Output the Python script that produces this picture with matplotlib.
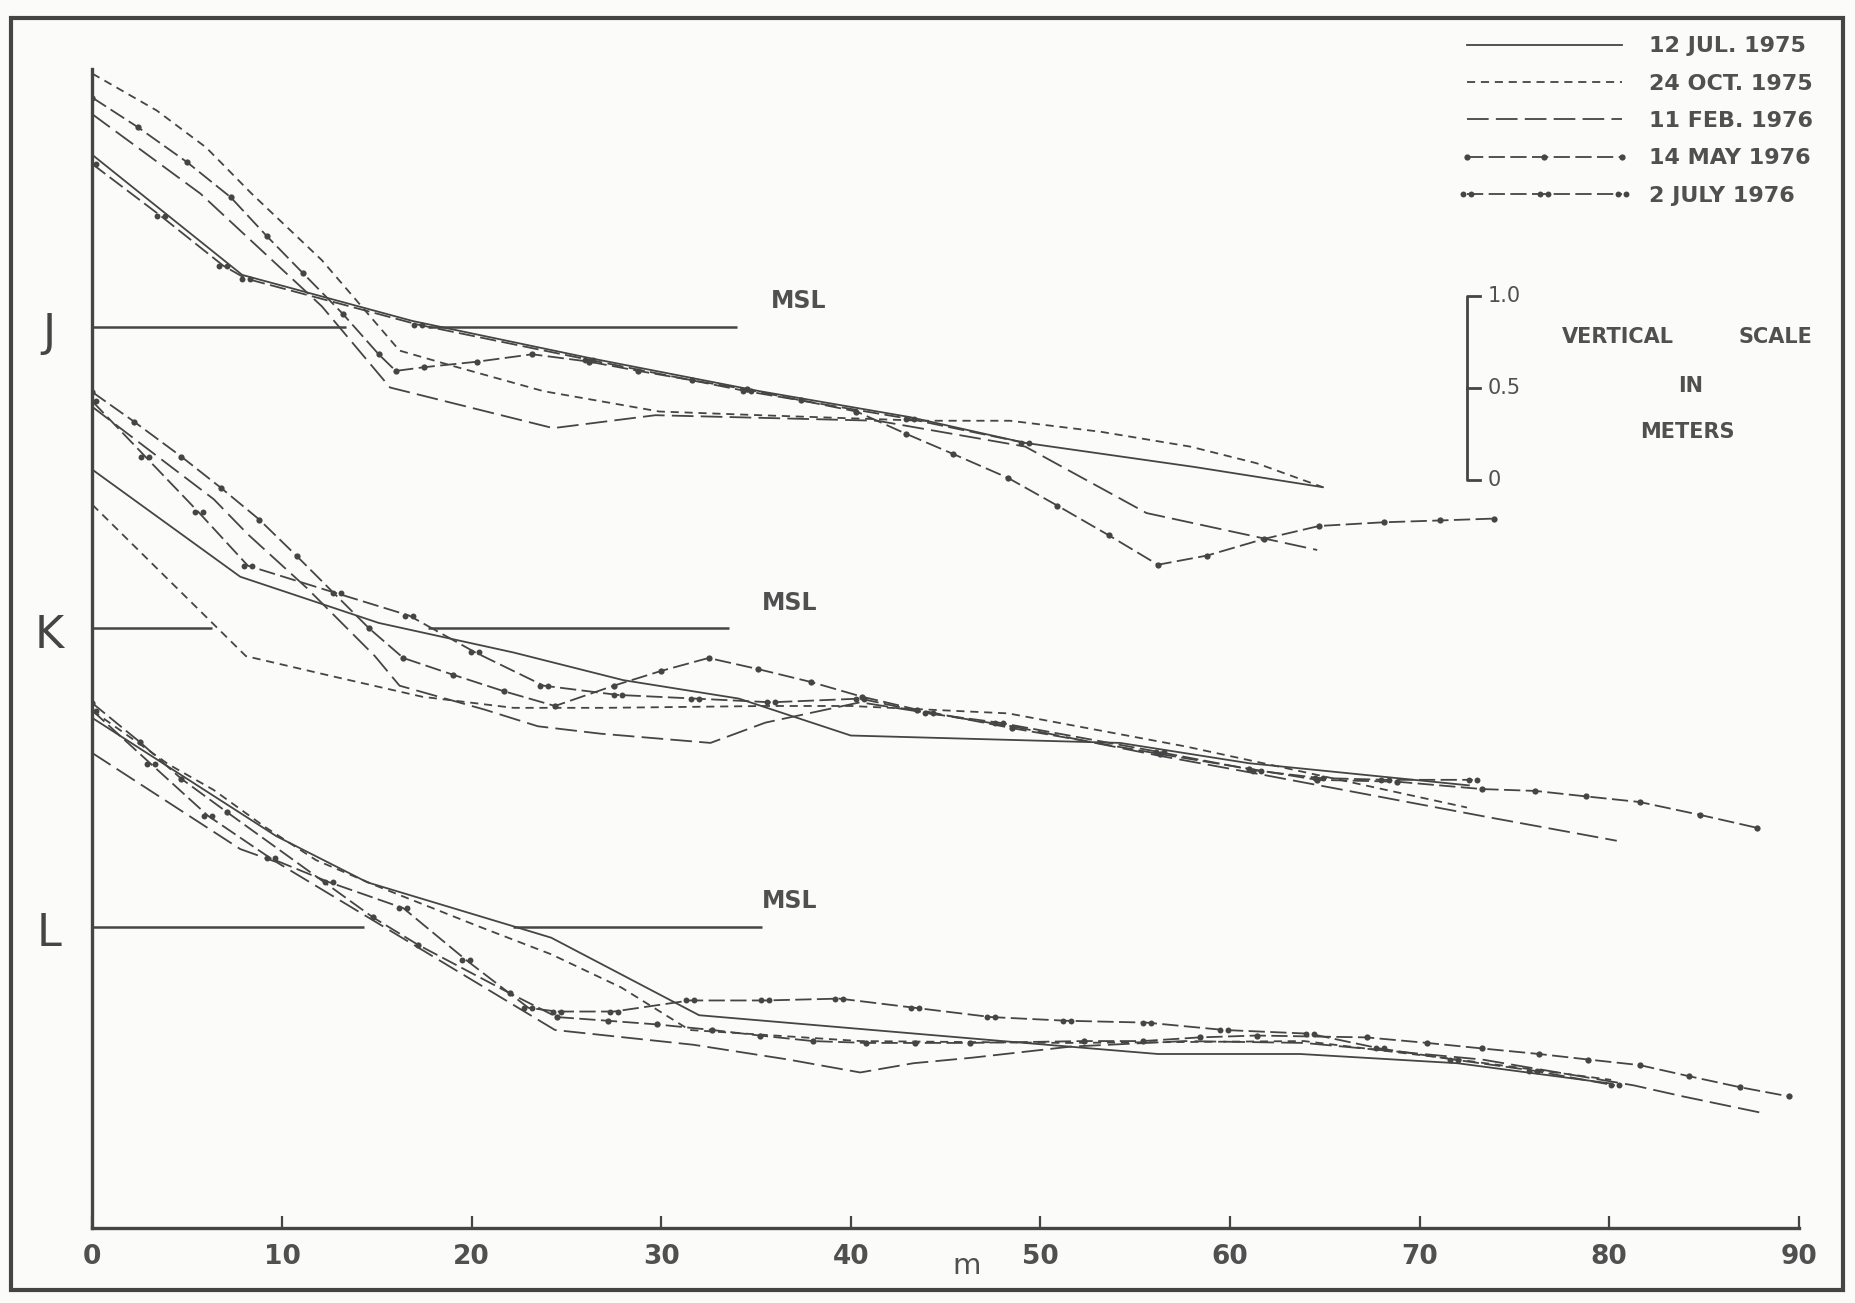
import matplotlib
matplotlib.use("Agg")
import matplotlib.pyplot as plt
from matplotlib.path import Path
from matplotlib.patches import Rectangle

# Beach profiles J, K, L: distance from bench mark (m) and elevation above MSL (m)
dates = ["12 JUL. 1975", "24 OCT. 1975", "11 FEB. 1976", "14 MAY 1976", "2 JULY 1976"]

# ---- profile J
j_jul75_x = [0, 7.9, 16.9, 26.2, 35.2, 43.1, 49.2, 58.1, 64.9]
j_jul75_y = [0.93, 0.28, 0.03, -0.17, -0.35, -0.49, -0.63, -0.76, -0.87]
j_oct75_x = [0, 3.4, 6.0, 8.4, 12.1, 16.2, 18.9, 23.8, 29.9, 35.2, 43.8, 48.4, 53.2, 57.9, 61.4, 64.9]
j_oct75_y = [1.37, 1.17, 0.97, 0.72, 0.36, -0.13, -0.21, -0.35, -0.46, -0.48, -0.51, -0.51, -0.57, -0.65, -0.74, -0.87]
j_feb76_x = [0, 5.7, 12.1, 15.7, 24.3, 29.7, 41.4, 49.2, 55.6, 64.6]
j_feb76_y = [1.15, 0.72, 0.11, -0.33, -0.55, -0.48, -0.51, -0.65, -1.01, -1.21]
j_may76_x = [0, 2.4, 5.0, 7.3, 9.2, 11.1, 13.2, 15.1, 16.0, 17.5, 20.3, 23.2, 26.2, 28.8, 31.6,
             34.5, 37.4, 40.3, 42.9, 45.4, 48.3, 50.9, 53.6, 56.2, 58.8, 61.8, 64.7, 68.1, 71.1, 73.9]
j_may76_y = [1.24, 1.08, 0.89, 0.70, 0.49, 0.29, 0.07, -0.15, -0.24, -0.22, -0.19, -0.15, -0.19, -0.24, -0.29,
             -0.34, -0.40, -0.46, -0.58, -0.69, -0.82, -0.97, -1.13, -1.29, -1.24, -1.15, -1.08, -1.06, -1.05, -1.04]
j_jul76_x = [0, 3.6, 6.9, 8.1, 17.2, 26.2, 34.5, 43.1, 49.2]
j_jul76_y = [0.88, 0.60, 0.33, 0.26, 0.01, -0.18, -0.35, -0.50, -0.63]

# ---- profile K
k_jul75_x = [0, 7.8, 15.1, 22.2, 28.0, 34.1, 40.0, 54.2, 61.0, 72.6]
k_jul75_y = [0.86, 0.28, 0.03, -0.13, -0.28, -0.38, -0.58, -0.62, -0.73, -0.85]
k_oct75_x = [0, 8.1, 12.7, 17.4, 22.2, 27.1, 35.5, 40.0, 48.3, 57.7, 64.0, 72.5]
k_oct75_y = [0.67, -0.15, -0.26, -0.37, -0.43, -0.43, -0.42, -0.42, -0.46, -0.64, -0.78, -0.97]
k_feb76_x = [0, 6.4, 8.2, 11.3, 14.9, 16.2, 20.7, 23.5, 26.8, 32.6, 35.5, 40.5, 48.5, 56.3, 61.6, 73.5, 80.4]
k_feb76_y = [1.20, 0.70, 0.51, 0.22, -0.15, -0.31, -0.44, -0.53, -0.57, -0.62, -0.51, -0.40, -0.53, -0.69, -0.79, -1.02, -1.15]
k_may76_x = [0, 2.2, 4.7, 6.8, 8.8, 10.8, 14.6, 16.4, 19.0, 21.7, 24.4, 27.5, 30.0, 32.5, 35.1,
             37.9, 40.6, 43.5, 48.5, 56.3, 61.0, 64.6, 68.8, 73.3, 76.1, 78.8, 81.6, 84.8, 87.8]
k_may76_y = [1.28, 1.12, 0.93, 0.76, 0.59, 0.39, 0.0, -0.16, -0.25, -0.34, -0.42, -0.31, -0.23, -0.16, -0.22,
             -0.29, -0.37, -0.44, -0.54, -0.68, -0.76, -0.82, -0.83, -0.87, -0.88, -0.91, -0.94, -1.01, -1.08]
k_jul76_x = [0, 2.8, 5.6, 8.2, 12.9, 16.7, 20.2, 23.8, 27.7, 31.8, 35.8, 40.5, 44.1, 47.8, 56.3, 61.4, 64.7, 68.2, 72.8]
k_jul76_y = [1.23, 0.93, 0.63, 0.34, 0.19, 0.07, -0.13, -0.31, -0.36, -0.38, -0.40, -0.38, -0.46, -0.51, -0.67, -0.77, -0.81, -0.82, -0.82]

# ---- profile L
l_jul75_x = [0, 9.7, 14.5, 24.2, 32.0, 48.0, 56.2, 63.7, 72.0, 80.1]
l_jul75_y = [1.13, 0.49, 0.24, -0.06, -0.48, -0.62, -0.69, -0.69, -0.74, -0.85]
l_oct75_x = [0, 4.0, 6.4, 9.1, 11.8, 15.0, 17.7, 20.4, 24.2, 27.9, 31.5, 40.5, 51.4, 63.9, 72.0, 80.1]
l_oct75_y = [1.17, 0.88, 0.74, 0.54, 0.36, 0.22, 0.11, 0.0, -0.15, -0.33, -0.56, -0.62, -0.63, -0.62, -0.72, -0.83]
l_feb76_x = [0, 7.8, 9.7, 24.4, 31.7, 36.7, 40.5, 43.3, 46.4, 51.6, 57.6, 63.9, 73.3, 81.3, 83.9, 88.1]
l_feb76_y = [0.94, 0.42, 0.35, -0.56, -0.64, -0.72, -0.79, -0.74, -0.71, -0.65, -0.62, -0.63, -0.72, -0.86, -0.92, -1.01]
l_may76_x = [0, 2.5, 4.7, 7.1, 14.8, 17.2, 22.0, 24.5, 27.2, 29.8, 32.7, 35.2, 38.0, 40.8, 43.4,
             46.3, 52.3, 55.4, 58.4, 61.4, 67.2, 70.4, 73.3, 76.3, 78.9, 81.6, 84.2, 86.9, 89.5]
l_may76_y = [1.21, 1.00, 0.80, 0.62, 0.05, -0.10, -0.36, -0.49, -0.51, -0.53, -0.56, -0.59, -0.62, -0.63, -0.63,
             -0.63, -0.62, -0.62, -0.60, -0.59, -0.60, -0.63, -0.66, -0.69, -0.72, -0.75, -0.81, -0.87, -0.92]
l_jul76_x = [0, 3.1, 6.1, 9.4, 12.5, 16.4, 19.7, 23.0, 24.5, 27.5, 31.5, 35.5, 39.4, 43.4, 47.4, 51.4, 55.6, 59.7, 64.2, 67.9, 71.8, 76.0, 80.3]
l_jul76_y = [1.17, 0.88, 0.60, 0.37, 0.24, 0.10, -0.18, -0.44, -0.46, -0.46, -0.40, -0.40, -0.39, -0.44, -0.49, -0.51, -0.52, -0.56, -0.58, -0.66, -0.72, -0.78, -0.86]

# vertical offset of each profile's MSL on the sheet, the pieces of the MSL line, label position
profile_names = ["J", "K", "L"]
profile_offsets = [3.25, 1.615, 0.0]
msl_segments = [[(0, 13.4), (17.7, 34.0)], [(0, 6.3), (17.7, 33.6)], [(0, 14.3), (22.2, 35.3)]]
msl_label_x = [35.8, 35.3, 35.3]

profiles = [
    [(j_jul75_x, j_jul75_y), (j_oct75_x, j_oct75_y), (j_feb76_x, j_feb76_y), (j_may76_x, j_may76_y), (j_jul76_x, j_jul76_y)],
    [(k_jul75_x, k_jul75_y), (k_oct75_x, k_oct75_y), (k_feb76_x, k_feb76_y), (k_may76_x, k_may76_y), (k_jul76_x, k_jul76_y)],
    [(l_jul75_x, l_jul75_y), (l_oct75_x, l_oct75_y), (l_feb76_x, l_feb76_y), (l_may76_x, l_may76_y), (l_jul76_x, l_jul76_y)],
]

ink = "#454545"
txt = "#505050"
paper = "#fbfbfa"

# two dots side by side for the 2 July 1976 survey
circ = Path.unit_circle()
double_dot = Path.make_compound_path(Path(circ.vertices + [-1.35, 0], circ.codes),
                                     Path(circ.vertices + [1.35, 0], circ.codes))

styles = [
    dict(linestyle="-"),
    dict(linestyle=(0, (4.5, 3.2))),
    dict(linestyle=(0, (12, 4))),
    dict(linestyle=(0, (9, 3)), marker="o", markersize=4.5),
    dict(linestyle=(0, (9, 3)), marker=double_dot, markersize=10),
]

plt.rcParams["font.family"] = ["DejaVu Sans"]
fig = plt.figure(figsize=(18.55, 13.03), dpi=100, facecolor=paper)
ax = fig.add_axes([0.0498, 0.0572, 0.9199, 0.8901])
ax.set_facecolor(paper)
ax.set_xlim(0, 90)
ax.set_ylim(-1.635, 4.647)

handles = []
for name, off, segs, lx, series in zip(profile_names, profile_offsets, msl_segments, msl_label_x, profiles):
    for i, ((xs, ys), st) in enumerate(zip(series, styles)):
        ln, = ax.plot(xs, [v + off for v in ys], color=ink, linewidth=1.3,
                      markerfacecolor=ink, markeredgewidth=0, label=dates[i], **st)
        if name == "J":
            handles.append(ln)
    for a, b in segs:
        ax.plot([a, b], [off, off], color=ink, linewidth=1.8, solid_capstyle="butt")
    ax.text(lx, off + 0.14, "MSL", fontsize=17, fontweight="bold",
            color=txt, ha="left", va="center")
    ax.text(-2.3, off - 0.04, name, fontsize=32, color=ink, ha="center",
            va="center", clip_on=False)

# vertical scale bar (1 m)
bar_x = 72.5
ax.plot([bar_x + 0.7, bar_x, bar_x, bar_x + 0.7], [2.417 + 1.0, 2.417 + 1.0, 2.417, 2.417],
        color=ink, linewidth=2.0)
ax.plot([bar_x, bar_x + 0.7], [2.917, 2.917], color=ink, linewidth=2.0)
for val, lab in [(1.0, "1.0"), (0.5, "0.5"), (0.0, "0")]:
    ax.text(bar_x + 1.1, 2.417 + val, lab, fontsize=15, color=txt, ha="left", va="center")
ax.text(77.5, 3.194, "VERTICAL", fontsize=15, fontweight="bold", color=txt, ha="left", va="center")
ax.text(90.7, 3.194, "SCALE", fontsize=15, fontweight="bold", color=txt, ha="right", va="center", clip_on=False)
ax.text(84.3, 2.93, "IN", fontsize=15, fontweight="bold", color=txt, ha="center", va="center")
ax.text(84.1, 2.68, "METERS", fontsize=15, fontweight="bold", color=txt, ha="center", va="center")

# axes styling: only the left and bottom lines, ticks pointing inward
for s in ["top", "right"]:
    ax.spines[s].set_visible(False)
for s in ["left", "bottom"]:
    ax.spines[s].set_linewidth(2.4)
    ax.spines[s].set_color(ink)
ax.set_yticks([])
ax.set_xticks(range(0, 91, 10))
ax.tick_params(axis="x", direction="in", length=9, width=1.6, colors=ink, pad=11,
               labelsize=19, labelcolor=txt)
for lab in ax.get_xticklabels():
    lab.set_fontweight("bold")
ax.set_xlabel("m", fontsize=21, color=txt)
ax.xaxis.set_label_coords(46.1 / 90, -0.02)

leg = ax.legend(handles=handles, labels=dates, loc="upper left", frameon=False,
                bbox_to_anchor=(1460 / 1855, 0.972), bbox_transform=fig.transFigure,
                prop={"size": 16, "weight": "bold"}, handlelength=7.6, handletextpad=0.9,
                labelspacing=0.78, borderpad=0, borderaxespad=0, numpoints=3)
for t in leg.get_texts():
    t.set_color(txt)

# outer frame of the sheet
fig.patches.append(Rectangle((0.006, 0.010), 0.9875, 0.976, transform=fig.transFigure,
                             fill=False, edgecolor=ink, linewidth=3.0))

fig.savefig("out.png", dpi=100, facecolor=paper)
